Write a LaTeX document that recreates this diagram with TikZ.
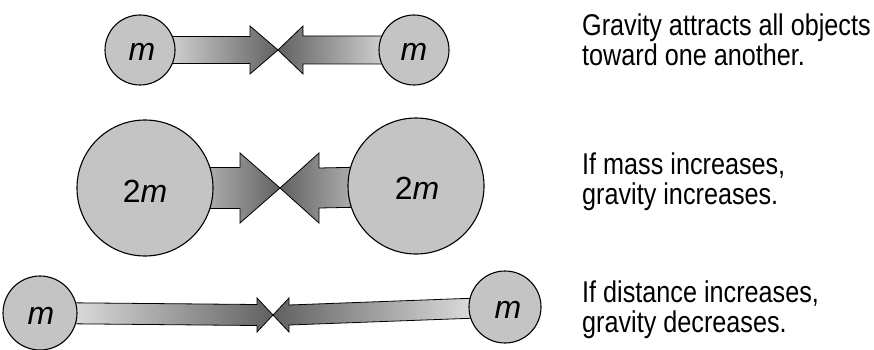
\documentclass[tikz,border=0pt]{standalone}
\usepackage{fontspec}
\setmainfont{Liberation Sans}[FakeStretch=0.84]
\newfontfamily\massfont{Liberation Sans}
\usetikzlibrary{calc,backgrounds}

\tikzset{
  mass/.style={circle,draw=black,line width=1.1pt,fill=black!23,inner sep=0pt},
  masstext/.style={font=\massfont\fontsize{32}{32}\selectfont},
  pull/.style={draw=black,line width=0.8pt},
  pullright/.style={pull,left color=black!6,right color=black!62},
  pullleft/.style={pull,left color=black!62,right color=black!6},
  caption/.style={anchor=base west,align=left,inner sep=0pt,font=\fontsize{30}{30}\selectfont}
}

% #1 mass, #2 tip, #3 shaft half width, #4 head half width, #5 head base offset, #6 style
\newcommand{\gravarrow}[6]{%
  \shadedraw[#6] ($(#1.center)+(0,-#3)$) -- ($(#2)+(#5,-#3)$) -- ($(#2)+(#5,-#4)$) -- (#2)
    -- ($(#2)+(#5,#4)$) -- ($(#2)+(#5,#3)$) -- ($(#1.center)+(0,#3)$) -- cycle;}

\begin{document}
\begin{tikzpicture}[x=1pt,y=-1pt]
\useasboundingbox (0,0) rectangle (874,350);
% masses
\node[mass,minimum size=70pt] (ma) at (140,50) {};
\node[mass,minimum size=70pt] (mb) at (414,50) {};
\node[mass,minimum size=136pt] (Ma) at (145,188) {};
\node[mass,minimum size=136pt] (Mb) at (416,186) {};
\node[mass,minimum size=74pt] (ca) at (40,313) {};
\node[mass,minimum size=72pt] (cb) at (505,307) {};
\node[masstext] at ($(ma)+(2,2)$) {\textit{m}};
\node[masstext] at ($(mb)+(0,2)$) {\textit{m}};
\node[masstext] at ($(Ma)+(0,3)$) {2\textit{m}};
\node[masstext] at ($(Mb)+(1,2)$) {2\textit{m}};
\node[masstext] at ($(ca)+(1,3)$) {\textit{m}};
\node[masstext] at ($(cb)+(3,3)$) {\textit{m}};
% meeting points
\coordinate (t1) at (278,50);
\coordinate (t2) at (280,188);
\coordinate (t3) at (273,315);
\begin{scope}[on background layer]
\gravarrow{ma}{t1}{13.5}{24}{-28}{pullright}
\gravarrow{mb}{t1}{14}{24}{25}{pullleft}
\gravarrow{Ma}{t2}{20.5}{35}{-40}{pullright}
\gravarrow{Mb}{t2}{20}{35}{39}{pullleft}
\gravarrow{ca}{t3}{10.5}{17}{-16}{pullright}
\gravarrow{cb}{t3}{10}{17}{16}{pullleft}
\end{scope}
% captions (placed by the baseline of the second line)
\node[caption] (cap1) at (582,66) {Gravity attracts all objects\\toward one another.};
\node[caption] (cap2) at (582,204) {If mass increases,\\gravity increases.};
\node[caption] (cap3) at (582,332) {If distance increases,\\gravity decreases.};
\end{tikzpicture}
\end{document}
